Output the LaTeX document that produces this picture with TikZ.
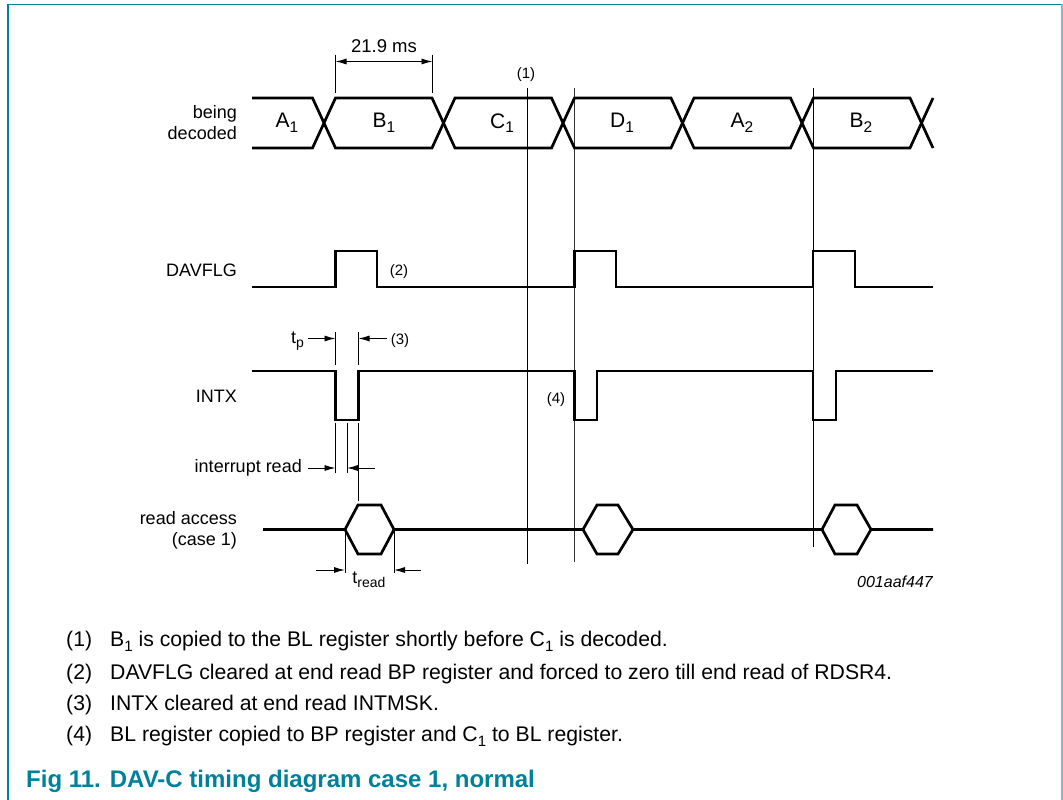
\documentclass[tikz,border=0pt]{standalone}
\usepackage{fontspec}
\setmainfont{Liberation Sans}
\usetikzlibrary{arrows.meta}
\definecolor{nxpteal}{HTML}{00819B}
\definecolor{nxplight}{HTML}{7FBCC8}
\newcommand\sbs[2][14]{\raisebox{-0.22em}{\fontsize{#1}{#1}\selectfont #2}}
\begin{document}
\begin{tikzpicture}[x=1pt,y=-1pt,
  sig/.style={line width=2.7pt},
  guide/.style={line width=0.9pt},
  dimarrow/.style={line width=0.9pt,-{Latex[length=11pt,width=6pt]}},
  dimboth/.style={line width=0.9pt,{Latex[length=11pt,width=6pt]}-{Latex[length=11pt,width=6pt]}},
  lbl/.style={font=\fontsize{18}{21}\selectfont, inner sep=0pt},
  buslbl/.style={font=\fontsize{21}{24}\selectfont, inner sep=0pt},
  small/.style={font=\fontsize{15}{18}\selectfont, inner sep=0pt},
  note/.style={font=\fontsize{21.2}{24}\selectfont, inner sep=0pt, anchor=base west},
  capt/.style={font=\fontsize{24}{27}\selectfont\bfseries, text=nxpteal, inner sep=0pt, anchor=base west},
]
\useasboundingbox (0,0) rectangle (1063,800);
% frame
\draw[nxpteal, line width=1.6pt] (8.2,800) -- (8.2,4.7) -- (1063,4.7);
\draw[nxplight, line width=2.4pt] (1061.8,4) -- (1061.8,800);

% ---- guide lines
\coordinate (g1t) at (527.5,88); \coordinate (g1b) at (527.5,564);
\coordinate (g2t) at (574.5,88); \coordinate (g2b) at (574.5,562);
\coordinate (g3t) at (813,88);   \coordinate (g3b) at (813,547);
\draw[guide] (g1t) -- (g1b);
\draw[guide, black!80] (g2t) -- (g2b);
\draw[guide] (g3t) -- (g3b);

% 21.9 ms dimension
\coordinate (d1t) at (335.5,55); \coordinate (d1b) at (335.5,93);
\coordinate (d2t) at (432.5,55); \coordinate (d2b) at (432.5,93);
\draw[guide] (d1t) -- (d1b);
\draw[guide] (d2t) -- (d2b);
\coordinate (da) at (335.5,61.5); \coordinate (db) at (432.5,61.5);
\draw[dimboth] (da) -- (db);
\node[lbl, font=\fontsize{18.5}{21}\selectfont] (dimtxt) at (384,46.5) {21.9 ms};
\node[small] (n1) at (526,75) {(1)};

% ---- bus
\draw[sig] (252,98) -- (312.5,98) -- (335.5,148) -- (432,148) -- (455,98) -- (551.5,98) -- (574.5,148) -- (671,148) -- (694,98) -- (790.5,98) -- (813.5,148) -- (910,148) -- (933,98);
\draw[sig] (252,148) -- (312.5,148) -- (335.5,98) -- (432,98) -- (455,148) -- (551.5,148) -- (574.5,98) -- (671,98) -- (694,148) -- (790.5,148) -- (813.5,98) -- (910,98) -- (933,148);
\node[buslbl] (a1) at (287,123) {A\sbs[15.5]{1}};
\node[buslbl] (b1) at (384,123) {B\sbs[15.5]{1}};
\node[buslbl] (c1) at (502,123) {C\sbs[15.5]{1}};
\node[buslbl] (dd1) at (622,123) {D\sbs[15.5]{1}};
\node[buslbl] (a2) at (742,123) {A\sbs[15.5]{2}};
\node[buslbl] (b2) at (861,123) {B\sbs[15.5]{2}};
\node[lbl, anchor=east, align=right] (busname) at (237,123) {being\\decoded};

% ---- DAVFLG
\draw[sig] (252,287) -- (335.5,287) -- (335.5,251) -- (377,251) -- (377,287) -- (574.5,287) -- (574.5,251) -- (616,251) -- (616,287) -- (813,287) -- (813,251) -- (855,251) -- (855,287) -- (933,287);
\node[lbl, anchor=east] (davflg) at (237,270.5) {DAVFLG};
\node[small] (n2) at (399,272) {(2)};

% ---- tp annotation
\coordinate (tp1t) at (335.5,332); \coordinate (tp1b) at (335.5,365);
\coordinate (tp2t) at (358.5,332); \coordinate (tp2b) at (358.5,365);
\draw[guide] (tp1t) -- (tp1b);
\draw[guide] (tp2t) -- (tp2b);
\node[lbl] (tp) at (297.5,341) {t\sbs{p}};
\coordinate (tpa) at (308,338.5); \coordinate (tpb) at (335.5,338.5);
\coordinate (tpc) at (387,338.5); \coordinate (tpd) at (358.5,338.5);
\draw[dimarrow] (tpa) -- (tpb);
\draw[dimarrow] (tpc) -- (tpd);
\node[small] (n3) at (400,341) {(3)};

% ---- INTX
\draw[sig] (252,371) -- (335.5,371) -- (335.5,420) -- (358.5,420) -- (358.5,371) -- (574.5,371) -- (574.5,420) -- (597,420) -- (597,371) -- (813,371) -- (813,420) -- (836,420) -- (836,371) -- (933,371);
\node[lbl, anchor=east] (intx) at (237,396.5) {INTX};
\node[small] (n4) at (556,400) {(4)};

% ---- interrupt read
\coordinate (ir1t) at (335.5,423); \coordinate (ir1b) at (335.5,473);
\coordinate (ir2t) at (347,423);   \coordinate (ir2b) at (347,473);
\coordinate (ir3t) at (358.5,423); \coordinate (ir3b) at (358.5,501);
\draw[guide] (ir1t) -- (ir1b);
\draw[guide] (ir2t) -- (ir2b);
\draw[guide] (ir3t) -- (ir3b);
\node[lbl, anchor=east] (irtxt) at (302,467.5) {interrupt read};
\coordinate (ira) at (308,468); \coordinate (irb) at (335.5,468);
\coordinate (irc) at (375,468); \coordinate (ird) at (347,468);
\draw[dimarrow] (ira) -- (irb);
\draw[dimarrow] (irc) -- (ird);

% ---- read access
\draw[sig] (263,529.5) -- (345,529.5) -- (358,505) -- (381,505) -- (394,529.5) -- (583,529.5) -- (597,505) -- (618,505) -- (633,529.5) -- (822,529.5) -- (835,505) -- (857,505) -- (871,529.5) -- (933,529.5);
\draw[sig] (345,529.5) -- (358,554) -- (381,554) -- (394,529.5);
\draw[sig] (583,529.5) -- (597,554) -- (618,554) -- (633,529.5);
\draw[sig] (822,529.5) -- (835,554) -- (857,554) -- (871,529.5);
\node[lbl, anchor=east, align=right] (ratxt) at (237,530.5) {read access\\(case 1)};

% ---- tread
\coordinate (tr1t) at (345,531); \coordinate (tr1b) at (345,573);
\coordinate (tr2t) at (394,531); \coordinate (tr2b) at (394,573);
\draw[guide] (tr1t) -- (tr1b);
\draw[guide] (tr2t) -- (tr2b);
\coordinate (tra) at (316,570); \coordinate (trb) at (345,570);
\coordinate (trc) at (421,570); \coordinate (trd) at (394,570);
\draw[dimarrow] (tra) -- (trb);
\draw[dimarrow] (trc) -- (trd);
\node[lbl] (tread) at (369,580) {t\sbs{read}};

\node[font=\fontsize{16}{19}\selectfont\itshape, inner sep=0pt, anchor=east] (figid) at (933,582) {001aaf447};

% ---- notes
\node[note] (k1) at (66,646.7) {(1)};
\node[note] (t1) at (110,646.7) {B\sbs[15]{1} is copied to the BL register shortly before C\sbs[15]{1} is decoded.};
\node[note] (k2) at (66,679) {(2)};
\node[note] (t2) at (110,679) {DAVFLG cleared at end read BP register and forced to zero till end read of RDSR4.};
\node[note] (k3) at (66,710.7) {(3)};
\node[note] (t3) at (110,710.7) {INTX cleared at end read INTMSK.};
\node[note] (k4) at (66,741.7) {(4)};
\node[note] (t4) at (110,741.7) {BL register copied to BP register and C\sbs[15]{1} to BL register.};
\node[capt] (cap) at (26,787.7) {Fig 11.\hspace{9pt}DAV-C timing diagram case 1, normal};
\end{tikzpicture}
\end{document}
